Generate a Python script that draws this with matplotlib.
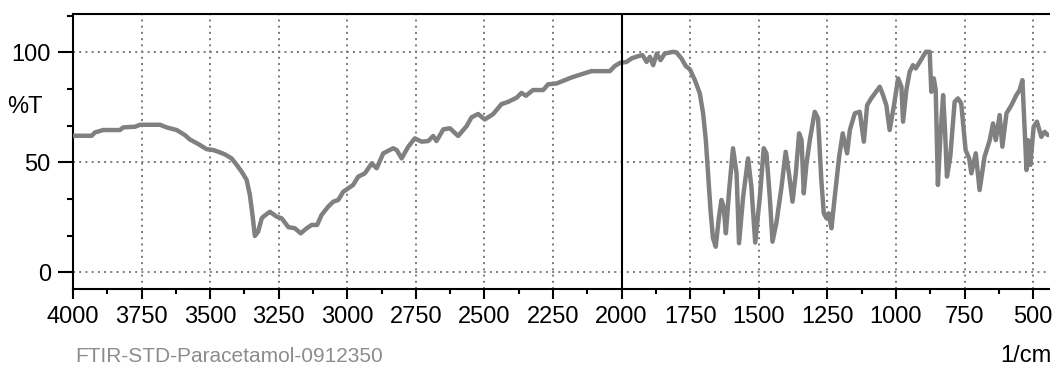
import matplotlib
matplotlib.use("Agg")
import matplotlib.pyplot as plt
from matplotlib.ticker import MultipleLocator, FixedLocator
from matplotlib import font_manager
import matplotlib.transforms as mtransforms

wavenumber = [4000, 3932, 3920, 3890, 3829, 3817, 3774, 3756, 3683, 3659, 3622, 3592, 3574, 3543,
              3513, 3489, 3470, 3446, 3422, 3403, 3385, 3367, 3355, 3345, 3337, 3325, 3312, 3306,
              3288, 3282, 3258, 3239, 3215, 3191, 3170, 3148, 3130, 3110, 3094, 3070, 3051, 3033,
              3015, 2979, 2960, 2936, 2911, 2893, 2869, 2833, 2820, 2802, 2778, 2754, 2729, 2705,
              2687, 2675, 2650, 2626, 2596, 2565, 2547, 2523, 2499, 2468, 2438, 2414, 2383, 2365,
              2349, 2323, 2286, 2268, 2237, 2207, 2183, 2146, 2110, 2043, 2025, 2007, 1982, 1964,
              1940, 1924, 1909, 1897, 1885, 1872, 1858, 1843, 1812, 1800, 1782, 1766, 1751, 1733,
              1715, 1703, 1693, 1685, 1676, 1667, 1657, 1645, 1636, 1628, 1620, 1608, 1594, 1581,
              1572, 1557, 1539, 1527, 1513, 1496, 1482, 1472, 1460, 1450, 1436, 1417, 1402, 1390,
              1377, 1365, 1353, 1344, 1336, 1326, 1314, 1296, 1284, 1272, 1263, 1253, 1245, 1235,
              1223, 1207, 1194, 1178, 1168, 1150, 1132, 1117, 1105, 1090, 1059, 1047, 1035, 1023,
              1008, 992, 980, 974, 962, 950, 938, 928, 913, 891, 877, 871, 862, 855, 847, 838, 828,
              821, 814, 802, 786, 774, 762, 746, 733, 725, 709, 695, 677, 658, 646, 636, 622, 612,
              597, 579, 561, 549, 539, 524, 518, 510, 498, 486, 470, 458, 446]
transmittance = [62.1, 62.1, 63.6, 64.7, 64.7, 65.9, 66.2, 67.1, 67.1, 65.9, 64.7, 62.4, 60.4, 58.3,
                 56.0, 55.6, 54.8, 53.6, 51.8, 48.8, 45.7, 42.0, 35.0, 25.3, 16.5, 18.5, 24.5, 25.3,
                 27.0, 27.5, 25.3, 24.5, 20.5, 20.0, 17.7, 20.0, 21.5, 21.5, 26.0, 29.8, 32.1, 32.9,
                 36.6, 39.7, 43.5, 45.0, 49.5, 47.3, 54.1, 56.4, 55.6, 51.8, 57.1, 60.9, 59.4, 59.7,
                 62.0, 59.7, 65.0, 65.5, 62.0, 66.5, 70.5, 72.0, 69.5, 72.0, 76.5, 77.5, 79.4, 81.6,
                 80.3, 82.9, 82.9, 85.5, 85.9, 87.4, 88.6, 90.1, 91.5, 91.5, 93.8, 95.2, 95.7, 97.3,
                 98.3, 98.8, 95.7, 98.0, 94.2, 99.5, 96.5, 99.5, 100.3, 100.0, 97.3, 93.8, 92.3, 87.4,
                 81.4, 72.3, 60.1, 45.0, 28.3, 15.5, 11.6, 25.3, 32.9, 29.8, 17.7, 37.4, 56.4, 45.0,
                 13.2, 34.4, 51.8, 38.9, 13.5, 34.4, 56.4, 54.1, 34.4, 13.9, 22.3, 38.9, 54.8, 45.0,
                 32.1, 45.0, 63.2, 60.1, 35.9, 49.5, 60.1, 73.0, 70.0, 42.0, 26.8, 24.5, 26.8, 20.0,
                 34.4, 52.5, 63.2, 54.1, 64.7, 72.3, 73.0, 59.4, 76.0, 79.1, 84.4, 80.6, 76.0, 64.7,
                 75.3, 88.2, 84.4, 68.5, 82.9, 91.2, 94.2, 92.7, 95.7, 100.3, 100.3, 82.1, 88.2, 82.9,
                 39.7, 61.6, 80.6, 64.7, 43.5, 52.5, 77.5, 79.1, 76.8, 55.6, 51.8, 45.0, 54.1, 37.4,
                 52.5, 60.1, 67.7, 60.1, 71.5, 57.1, 72.3, 76.0, 80.6, 82.9, 87.4, 46.5, 60.1, 48.8,
                 66.2, 68.5, 61.6, 63.9, 62.4]

x_ticks = [4000, 3750, 3500, 3250, 3000, 2750, 2500, 2250, 2000, 1750, 1500, 1250, 1000, 750, 500]
y_ticks = [0, 50, 100]
sample_name = "FTIR-STD-Paracetamol-0912350"
x_unit = "1/cm"
y_label = "%T"

available = {f.name for f in font_manager.fontManager.ttflist}
narrow = "Liberation Sans Narrow" if "Liberation Sans Narrow" in available else "Liberation Sans"
plt.rcParams['font.family'] = ['Liberation Sans', 'DejaVu Sans']

W, H = 1055, 365
fig = plt.figure(figsize=(W / 100, H / 100), dpi=100)
left, right, top, bottom = 73, 1049, 14, 288.7
ax = fig.add_axes([left / W, 1 - bottom / H, (right - left) / W, (bottom - top) / H])

line_color = "#808080"
ax.plot(wavenumber, transmittance, color=line_color, lw=3.2, solid_joinstyle='round',
        solid_capstyle='round', zorder=3)
ax.axvline(2000, color="black", lw=1.5, zorder=4)

ax.set_xlim(4000, 442)
ax.set_ylim(-7.5, 117.5)

ax.xaxis.set_major_locator(FixedLocator(x_ticks))
ax.xaxis.set_minor_locator(MultipleLocator(125))
ax.yaxis.set_major_locator(FixedLocator(y_ticks))
ax.yaxis.set_minor_locator(MultipleLocator(50 / 3))

ax.grid(True, which='major', color="#7a7a7a", linestyle=(0, (1, 2.2)), lw=1.4, zorder=1)

ax.tick_params(axis='x', which='major', length=7.5, width=1.5, pad=5, labelsize=17, direction='out')
ax.tick_params(axis='x', which='minor', length=3.5, width=1.5, direction='out')
ax.tick_params(axis='y', which='major', length=11, width=1.5, pad=5, labelsize=17, direction='out')
ax.tick_params(axis='y', which='minor', length=4.5, width=1.5, direction='out')

for s in ['left', 'bottom', 'top']:
    ax.spines[s].set_linewidth(1.5)
    ax.spines[s].set_color("black")
ax.spines['right'].set_visible(False)

trans = mtransforms.blended_transform_factory(ax.transAxes, ax.transData)
ax.text(-30 / (right - left), 75, y_label, transform=trans, ha='right', va='center', fontsize=17)

fig.text(75 / W, 1 - 362 / H, sample_name, ha='left', va='baseline',
         fontsize=18 if narrow != "Liberation Sans" else 15,
         color="#8c8c8c", family=[narrow, 'DejaVu Sans'])
fig.text(1051 / W, 1 - 362 / H, x_unit, ha='right', va='baseline', fontsize=17, color="black")

fig.savefig("out.png", dpi=100, facecolor="white")
